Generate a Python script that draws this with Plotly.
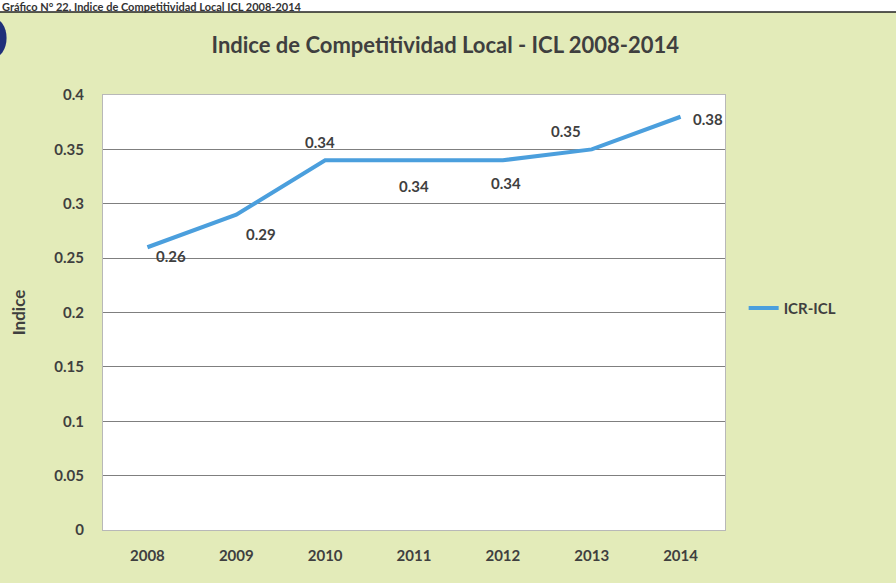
import plotly.graph_objects as go

years = ["2008", "2009", "2010", "2011", "2012", "2013", "2014"]
icl_values = [0.26, 0.29, 0.34, 0.34, 0.34, 0.35, 0.38]
label_texts = ["0.26", "0.29", "0.34", "0.34", "0.34", "0.35", "0.38"]
y_ticks = [0, 0.05, 0.1, 0.15, 0.2, 0.25, 0.3, 0.35, 0.4]

# label offsets in pixels (style)
label_dx = [24, 25, -5, 0, 3, -26, 27]
label_dy = [-9, -19, 18, -26, -23, 18, -2]

FONT = "Lato, 'Open Sans', sans-serif"
TXT = "#3f3f3f"
BG = "#E3EBB9"

fig = go.Figure()
fig.add_trace(go.Scatter(
    x=years, y=icl_values, mode="lines", name="ICR-ICL",
    line=dict(color="#4B9FDD", width=4),
))

annotations = []
for i, (y, t, dx, dy) in enumerate(zip(icl_values, label_texts, label_dx, label_dy)):
    annotations.append(dict(
        x=i, y=y, xref="x", yref="y", text=t, showarrow=False,
        xshift=dx, yshift=dy,
        font=dict(family=FONT, size=15, color=TXT, weight="bold"),
    ))

# caption in the white strip at the very top
annotations.append(dict(
    x=0.0, y=1.0, xref="paper", yref="paper", yshift=95 - 6, xshift=-103,
    xanchor="left", yanchor="middle",
    text="Gráfico N° 22. Indice de Competitividad Local ICL 2008-2014",
    showarrow=False,
    font=dict(family=FONT, size=11, color="#333333", weight="bold"),
))

fig.update_layout(
    width=896, height=583,
    paper_bgcolor=BG, plot_bgcolor="white",
    margin=dict(l=103, r=171, t=95, b=53),
    title=dict(
        text="Indice de Competitividad Local - ICL 2008-2014",
        x=0.497, xanchor="center", y=0.922, yanchor="middle",
        font=dict(family=FONT, size=22, color=TXT, weight="bold"),
    ),
    xaxis=dict(
        type="category", range=[-0.5, 6.5],
        showgrid=False, showline=True, linecolor="#b8b8b8", linewidth=1, mirror=True,
        ticks="", tickfont=dict(family=FONT, size=15, color=TXT, weight="bold"),
        ticklabelstandoff=12,
    ),
    yaxis=dict(
        range=[0, 0.4], tickvals=y_ticks,
        showgrid=True, gridcolor="#7f7f7f", gridwidth=1,
        showline=True, linecolor="#b8b8b8", linewidth=1, mirror=True,
        zeroline=False,
        ticks="", tickfont=dict(family=FONT, size=15, color=TXT, weight="bold"),
        ticklabelstandoff=15,
        title=dict(text="Indice", standoff=24,
                   font=dict(family=FONT, size=17, color=TXT, weight="bold")),
    ),
    showlegend=True,
    legend=dict(
        x=1.03, y=0.51, xanchor="left", yanchor="middle",
        bgcolor="rgba(0,0,0,0)",
        font=dict(family=FONT, size=15, color=TXT, weight="bold"),
    ),
    annotations=annotations,
)

top = 1 + 95 / 435
strip = 1 + (95 - 12) / 435
fig.add_shape(type="rect", xref="paper", yref="paper", x0=-0.2, x1=1.3,
              y0=strip, y1=top + 0.05, fillcolor="white", line=dict(width=0), layer="below")
fig.add_shape(type="line", xref="paper", yref="paper", x0=-0.2, x1=1.3,
              y0=strip, y1=strip, line=dict(color="#222222", width=1.5))
fig.add_shape(type="circle", xref="paper", yref="paper",
              x0=-0.2, x1=-0.155, y0=1 + (95 - 58) / 435, y1=1 + (95 - 18) / 435,
              fillcolor="#1f2f7a", line=dict(width=0))

fig.write_html("out.html", config={"displayModeBar": False},
               post_script="document.body.style.margin='0';")
